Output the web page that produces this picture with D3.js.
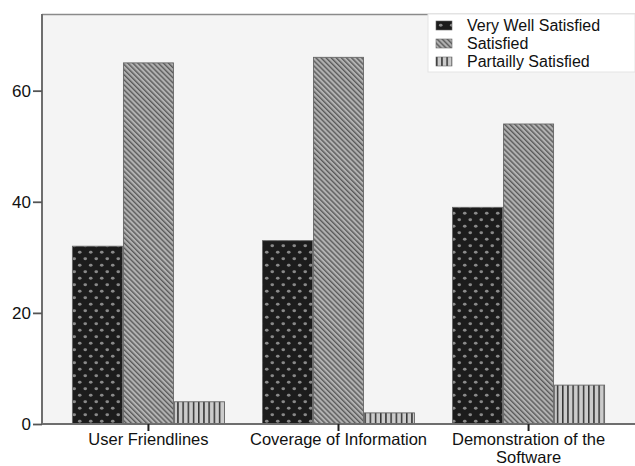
<!DOCTYPE html>
<html>
<head>
<meta charset="utf-8">
<script src="https://cdn.jsdelivr.net/npm/d3@7"></script>
<style>
  html, body { margin: 0; padding: 0; background: #fff; }
  svg { display: block; font-family: "Liberation Sans", Arial, sans-serif; }
</style>
</head>
<body>
<svg id="chart" width="635" height="466"></svg>
<script>
// Survey responses per aspect of the software
const categories = ["User Friendlines", "Coverage of Information", "Demonstration of the Software"];
const categoryLines = [["User Friendlines"], ["Coverage of Information"], ["Demonstration of the", "Software"]];
const seriesNames = ["Very Well Satisfied", "Satisfied", "Partailly Satisfied"];
const veryWellSatisfied = [32, 33, 39];
const satisfied = [65, 66, 54];
const partiallySatisfied = [4, 2, 7];
const yTicks = [0, 20, 40, 60];

const seriesValues = [veryWellSatisfied, satisfied, partiallySatisfied];

const svg = d3.select("#chart");
const W = 635, H = 466;
const m = { top: 14, right: 0, bottom: 42, left: 42 };
const plotW = W - m.left - m.right;
const plotH = H - m.top - m.bottom;

// Hatch and dot fills for the three response levels
const defs = svg.append("defs");

const pDots = defs.append("pattern")
  .attr("id", "pat-dots").attr("patternUnits", "userSpaceOnUse")
  .attr("width", 11).attr("height", 13).attr("x", 2).attr("y", 1);
pDots.append("rect").attr("width", 11).attr("height", 13).attr("fill", "#1c1c1c");
[[2.75, 3.25], [8.25, 9.75]].forEach(([cx, cy]) => {
  pDots.append("ellipse").attr("cx", cx).attr("cy", cy).attr("rx", 1.8).attr("ry", 1.4)
    .attr("fill", "#8a8a8a");
});

const pDiag = defs.append("pattern")
  .attr("id", "pat-diag").attr("patternUnits", "userSpaceOnUse")
  .attr("width", 3.6).attr("height", 4)
  .attr("patternTransform", "rotate(-45)");
pDiag.append("rect").attr("width", 3.6).attr("height", 4).attr("fill", "#b2b2b2");
pDiag.append("rect").attr("x", 0).attr("y", 0).attr("width", 1.4).attr("height", 4).attr("fill", "#5a5a5a");

const pVert = defs.append("pattern")
  .attr("id", "pat-vert").attr("patternUnits", "userSpaceOnUse")
  .attr("width", 5.2).attr("height", 10);
pVert.append("rect").attr("width", 5.2).attr("height", 10).attr("fill", "#cbcbcb");
pVert.append("rect").attr("x", 0).attr("width", 1.5).attr("height", 10).attr("fill", "#333");

const fills = ["url(#pat-dots)", "url(#pat-diag)", "url(#pat-vert)"];

const g = svg.append("g").attr("transform", `translate(${m.left},${m.top})`);

// Plot area background and frame top
g.append("rect").attr("width", plotW).attr("height", plotH).attr("fill", "#f4f4f4");
g.append("line").attr("x1", 0).attr("x2", plotW).attr("y1", 0.5).attr("y2", 0.5)
  .attr("stroke", "#8a8a8a").attr("stroke-width", 1.5);

const y = d3.scaleLinear().domain([0, 73.8]).range([plotH, 0]);
const x0 = d3.scaleBand().domain(categories).range([0, plotW]).paddingInner(0.2).paddingOuter(0.16);
const x1 = d3.scaleBand().domain(seriesNames).range([0, x0.bandwidth()]).paddingInner(0.02);

// Bars
categories.forEach((cat, ci) => {
  seriesNames.forEach((s, si) => {
    const v = seriesValues[si][ci];
    g.append("rect")
      .attr("x", x0(cat) + x1(s))
      .attr("y", y(v))
      .attr("width", x1.bandwidth())
      .attr("height", y(0) - y(v))
      .attr("fill", fills[si])
      .attr("stroke", "#666")
      .attr("stroke-width", 0.9);
  });
});

// Y axis
const yAxis = g.append("g").call(
  d3.axisLeft(y).tickValues(yTicks).tickSize(9).tickPadding(2).tickFormat(d3.format("d"))
);
yAxis.select(".domain").attr("stroke", "#6e6e6e").attr("stroke-width", 2)
  .attr("d", `M0,${plotH}V0`);
yAxis.selectAll(".tick line").attr("stroke", "#555").attr("stroke-width", 1.8);
yAxis.selectAll(".tick text").attr("font-size", 17).attr("fill", "#111")
  .attr("font-family", "Liberation Sans, Arial, sans-serif");

// X axis
const xAxis = g.append("g").attr("transform", `translate(0,${plotH})`).call(
  d3.axisBottom(x0).tickSize(7).tickFormat("")
);
xAxis.select(".domain").attr("stroke", "#6e6e6e").attr("stroke-width", 2)
  .attr("d", `M0,0H${plotW}`);
xAxis.selectAll(".tick line").attr("stroke", "#222").attr("stroke-width", 2);

// Category labels, wrapped onto separate lines where needed
categories.forEach((cat, ci) => {
  const cx = x0(cat) + x0.bandwidth() / 2;
  categoryLines[ci].forEach((line, li) => {
    g.append("text")
      .attr("x", cx)
      .attr("y", plotH + 21 + li * 18)
      .attr("text-anchor", "middle")
      .attr("font-size", 16.5)
      .attr("fill", "#111")
      .text(line);
  });
});

// Legend
const lg = svg.append("g").attr("transform", "translate(428,14)");
lg.append("rect").attr("width", 207).attr("height", 58).attr("fill", "#ffffff")
  .attr("stroke", "#e4e4e4");
seriesNames.forEach((s, i) => {
  const row = lg.append("g").attr("transform", `translate(8,${7 + i * 18})`);
  row.append("rect").attr("width", 16).attr("height", 9).attr("fill", fills[i])
    .attr("stroke", "#666").attr("stroke-width", 0.6);
  row.append("text").attr("x", 31).attr("y", 9.5).attr("font-size", 16)
    .attr("fill", "#111").text(s);
});
</script>
</body>
</html>
